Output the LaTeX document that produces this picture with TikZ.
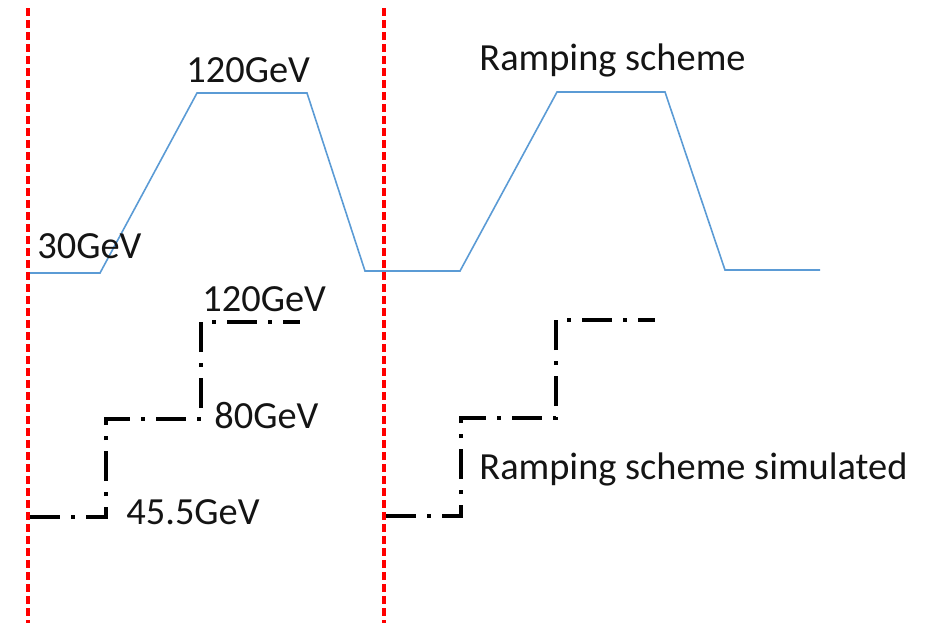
\documentclass[tikz,border=0pt]{standalone}
\usepackage{fontspec}
\setmainfont{Carlito}
\definecolor{rampblue}{RGB}{91,155,213}
\definecolor{cyclered}{RGB}{255,0,0}
\definecolor{txt}{RGB}{20,20,20}
\begin{document}
\begin{tikzpicture}[x=0.5pt,y=-0.5pt,
  ramp/.style={draw=rampblue, line width=0.8pt, line join=miter},
  simstep/.style={draw=black, line width=1.7pt, dash pattern=on 15pt off 5.5pt on 2pt off 5.5pt},
  cyclemark/.style={draw=cyclered, line width=1.9pt, dash pattern=on 4pt off 2pt},
  lbl/.style={inner sep=0pt, anchor=base west, font=\fontsize{19.2}{23}\selectfont, text=txt}]
\useasboundingbox (0,0) rectangle (930,623);
% ramping scheme (blue)
\coordinate (a0) at (30,273);
\coordinate (a1) at (100,273);
\coordinate (a2) at (197,93);
\coordinate (a3) at (307,93);
\coordinate (a4) at (365,271);
\coordinate (b0) at (460,271);
\coordinate (b1) at (557,92);
\coordinate (b2) at (665,92);
\coordinate (b3) at (725,270);
\coordinate (b4) at (820,270);
\draw[ramp] (a0) -- (a1) -- (a2) -- (a3) -- (a4) -- (b0) -- (b1) -- (b2) -- (b3) -- (b4);
% simulated steps (black)
\coordinate (s0) at (30,517);
\coordinate (s1) at (106,517);
\coordinate (s2) at (106,419);
\coordinate (s3) at (201,419);
\coordinate (s4) at (201,322);
\coordinate (s5) at (300,322);
\draw[simstep] (s0) -- (s1) -- (s2) -- (s3) -- (s4) -- (s5);
\coordinate (t0) at (386,516);
\coordinate (t1) at (461,516);
\coordinate (t2) at (461,418);
\coordinate (t3) at (556,418);
\coordinate (t4) at (556,320);
\coordinate (t5) at (655,320);
\draw[simstep] (t0) -- (t1) -- (t2) -- (t3) -- (t4) -- (t5);
% cycle markers (red)
\coordinate (r1t) at (28,8);
\coordinate (r1b) at (28,623);
\coordinate (r2t) at (384,8);
\coordinate (r2b) at (384,623);
\draw[cyclemark] (r1t) -- (r1b);
\draw[cyclemark] (r2t) -- (r2b);
% labels
\node[lbl] (l120a) at (186,82) {120GeV};
\node[lbl] (l30) at (37,258) {30GeV};
\node[lbl] (l120b) at (202,311) {120GeV};
\node[lbl] (l80) at (214,428) {80GeV};
\node[lbl] (l455) at (126,524) {45.5GeV};
\node[lbl] (lramp) at (479,70) {Ramping scheme};
\node[lbl] (lsim) at (479,479) {Ramping scheme simulated};
\end{tikzpicture}
\end{document}
